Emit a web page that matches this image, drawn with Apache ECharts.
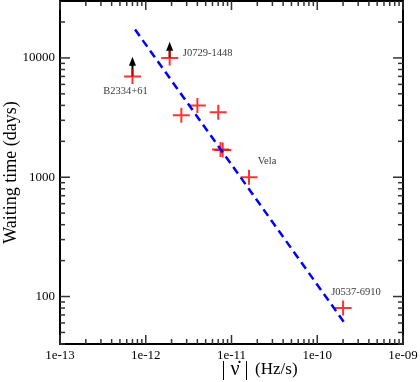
<!DOCTYPE html>
<html>
<head>
<meta charset="utf-8">
<script src="https://cdn.jsdelivr.net/npm/echarts@6/dist/echarts.min.js"></script>
<style>
  html, body { margin: 0; padding: 0; background: #fff; }
  #chart { width: 420px; height: 382px; }
</style>
</head>
<body>
<div id="chart"></div>
<script>
// pulsars: spin-down rate |nu dot| (Hz/s) vs waiting time (days)
const pointX = [7.0e-13, 1.9e-12, 2.6e-12, 4.0e-12, 7.0e-12, 7.45e-12, 7.9e-12, 1.6e-11, 2.0e-10]
const pointY = [7000, 10000, 3300, 4000, 3500, 1710, 1690, 1000, 80]
const pointName = ['B2334+61', 'J0729-1448', '', '', '', '', '', 'Vela', 'J0537-6910']

// lower limits (arrows)
const arrowX = [7.0e-13, 1.9e-12]
const arrowFrom = [7000, 10000]
const arrowTo = [9400, 12500]

// fitted dashed line
const fitX = [7.5e-13, 2.05e-10]
const fitY = [17300, 61]

// axis ticks
const xMajor = [1e-13, 1e-12, 1e-11, 1e-10, 1e-9]
const xTickLabels = ['1e-13', '1e-12', '1e-11', '1e-10', '1e-09']
const xMinor = [2, 3, 4, 5, 6, 7, 8, 9].flatMap(m => [1e-13, 1e-12, 1e-11, 1e-10].map(d => m * d))
const yMajor = [100, 1000, 10000]
const yTickLabels = ['100', '1000', '10000']
const yMinor = [40, 50, 60, 70, 80, 90, 200, 300, 400, 500, 600, 700, 800, 900,
  2000, 3000, 4000, 5000, 6000, 7000, 8000, 9000, 20000]

const labelOffset = {
  'B2334+61': [-7, 15],
  'J0729-1448': [38, -5],
  'Vela': [18, -16],
  'J0537-6910': [13, -16],
}

const FONT = 'Liberation Serif'
const crossPath = 'path://M7.5,0h2v15h-2z M0,6.5h17v2h-17z'

const xLimits = { min: 1e-13, max: 1e-9 }
const yLimits = { min: 40, max: 30000 }

const tickLabel = (ticks, labels) => value => {
  const i = ticks.findIndex(t => Math.abs(Math.log10(t) - Math.log10(value)) < 1e-6)
  return i >= 0 ? labels[i] : ''
}

// frame axes: line + labels only, ticks are drawn by the custom series below
const makeAxis = (type, pos, labels) => ({
  type: 'log',
  logBase: 10,
  ...(type === 'x' ? xLimits : yLimits),
  position: pos,
  axisLine: { show: true, onZero: false, lineStyle: { color: '#000', width: 2 } },
  axisTick: { show: false },
  axisLabel: labels ? {
    show: true,
    customValues: labels === xTickLabels ? xMajor : yMajor,
    margin: 5,
    color: '#000',
    fontFamily: FONT,
    fontSize: 13,
    formatter: tickLabel(labels === xTickLabels ? xMajor : yMajor, labels),
  } : { show: false },
  splitLine: { show: false },
  minorTick: { show: false },
})

// inward ticks on both sides of the frame, placed through the log axes
const tickSeries = (values, axis, len) => ({
  type: 'custom',
  xAxisIndex: 0,
  yAxisIndex: 0,
  silent: true,
  z: 1,
  data: values.map(v => (axis === 'x' ? [v, yLimits.min] : [xLimits.min, v])),
  renderItem: (params, api) => {
    const p = api.coord([api.value(0), api.value(1)])
    const cs = params.coordSys
    const style = { stroke: '#333', lineWidth: 1.5 }
    const segs = axis === 'x'
      ? [[p[0], cs.y + cs.height, p[0], cs.y + cs.height - len], [p[0], cs.y, p[0], cs.y + len]]
      : [[cs.x, p[1], cs.x + len, p[1]], [cs.x + cs.width, p[1], cs.x + cs.width - len, p[1]]]
    return {
      type: 'group',
      children: segs.map(s => ({ type: 'line', shape: { x1: s[0], y1: s[1], x2: s[2], y2: s[3] }, style })),
    }
  },
})

const buildOption = () => ({
  animation: false,
  backgroundColor: '#fff',
  grid: { left: 60, right: 17, top: 1, bottom: 38, outerBoundsMode: 'none' },
  xAxis: [
    {
      ...makeAxis('x', 'bottom', xTickLabels),
      name: '{a|| \u03BD\u0307 |}  {b|(Hz/s)}',
      nameLocation: 'middle',
      nameGap: 16,
      nameMoveOverlap: false,
      nameTextStyle: {
        padding: [0, 0, 0, 56],
        rich: {
          a: { fontFamily: FONT, fontSize: 20, color: '#000' },
          b: { fontFamily: FONT, fontSize: 17, color: '#000' },
        },
      },
    },
    makeAxis('x', 'top'),
  ],
  yAxis: [
    {
      ...makeAxis('y', 'left', yTickLabels),
      name: 'Waiting time (days)',
      nameLocation: 'middle',
      nameGap: 40,
      nameMoveOverlap: false,
      nameTextStyle: { fontFamily: FONT, fontSize: 18, color: '#000' },
    },
    makeAxis('y', 'right'),
  ],
  series: [
    tickSeries(xMajor, 'x', 9),
    tickSeries(xMinor, 'x', 5),
    tickSeries(yMajor, 'y', 10),
    tickSeries(yMinor, 'y', 5),
    ...arrowX.map((x, i) => ({
      type: 'line',
      xAxisIndex: 0,
      yAxisIndex: 0,
      z: 2,
      lineStyle: { color: '#000', width: 2 },
      itemStyle: { color: '#000' },
      data: [
        { value: [x, arrowFrom[i]], symbol: 'none' },
        { value: [x, arrowTo[i]], symbol: 'triangle', symbolSize: [7, 9] },
      ],
    })),
    {
      type: 'scatter',
      xAxisIndex: 0,
      yAxisIndex: 0,
      z: 3,
      symbol: crossPath,
      symbolSize: [17, 15],
      itemStyle: { color: '#ff0000' },
      data: pointX.map((x, i) => ({
        value: [x, pointY[i]],
        name: pointName[i],
        label: pointName[i] ? {
          show: true,
          position: 'inside',
          offset: labelOffset[pointName[i]],
          formatter: '{b}',
          color: '#000',
          fontFamily: FONT,
          fontSize: 10.5,
        } : { show: false },
      })),
    },
    {
      type: 'line',
      xAxisIndex: 0,
      yAxisIndex: 0,
      z: 4,
      symbol: 'none',
      lineStyle: { color: '#0000ff', width: 2.5, type: [8, 5] },
      data: fitX.map((x, i) => [x, fitY[i]]),
    },
  ],
})

const mychart = echarts.init(document.getElementById('chart'))
mychart.setOption(buildOption())
window.addEventListener('resize', () => mychart.resize())
</script>
</body>
</html>
